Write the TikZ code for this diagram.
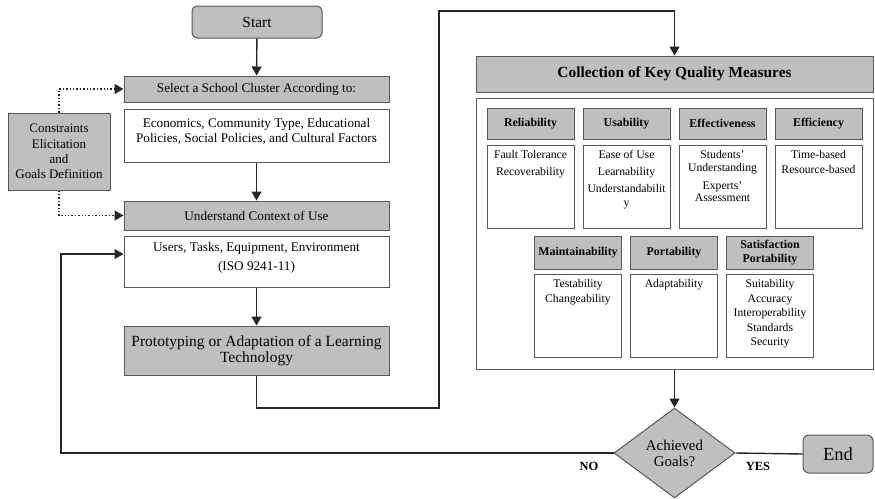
\documentclass[tikz,border=0pt]{standalone}
\usepackage{fontspec}
\setmainfont{Liberation Serif}
\usetikzlibrary{arrows.meta, positioning, shapes.geometric, calc}

\begin{document}
\begin{tikzpicture}[x=1pt, y=-1pt,
    every node/.style={inner sep=0pt},
    grey/.style={draw=black!65, line width=1pt, fill=black!25},
    plain/.style={draw=black!65, line width=1pt, fill=white},
    txt/.style={align=center, font=\fontsize{13.2}{15}\selectfont},
    small/.style={align=center, font=\fontsize{11.7}{14.5}\selectfont},
    head/.style={grey, minimum width=87pt, minimum height=31pt, align=center, font=\bfseries\fontsize{11.9}{14}\selectfont},
    cell/.style={plain, minimum width=87pt, minimum height=83pt},
    flow/.style={line width=1.4pt, draw=black!85},
    arr/.style={flow, -{Triangle[width=10pt,length=9pt]}},
    dots/.style={arr, dotted}]
    \useasboundingbox (0,0) rectangle (875,498);

    % left column
    \node[grey, rounded corners=5pt, minimum width=130pt, minimum height=32pt, font=\fontsize{15.4}{18}\selectfont] (start) at (257,22) {Start};
    \node[grey, minimum width=265pt, minimum height=26pt, txt] (sel) at (256.5,89) {Select a School Cluster According to:};
    \node[plain, minimum width=265pt, minimum height=53pt] (econ) at (256.5,135.5) {};
    \node[txt, below=9.5pt of econ.north] (econtxt) {Economics, Community Type, Educational\\Policies, Social Policies, and Cultural Factors};
    \node[grey, minimum width=265pt, minimum height=29pt, txt] (ctx) at (256.5,215.5) {Understand Context of Use};
    \node[plain, minimum width=265pt, minimum height=51pt] (users) at (256.5,261.5) {};
    \node[txt, below=6.5pt of users.north] (userstxt) {Users, Tasks, Equipment, Environment\\[4pt](ISO 9241-11)};
    \node[grey, minimum width=265pt, minimum height=49pt, align=center, font=\fontsize{15.5}{16}\selectfont] (proto) at (256.5,350.5) {Prototyping or Adaptation of a Learning\\Technology};
    \node[grey, minimum width=102pt, minimum height=77pt, align=center, font=\fontsize{13}{15.3}\selectfont] (cons) at (59,151.5) {Constraints\\Elicitation\\and\\Goals Definition};

    % right column
    \node[grey, minimum width=397pt, minimum height=36pt, font=\bfseries\fontsize{15.4}{18}\selectfont] (coll) at (674.5,74) {Collection of Key Quality Measures};
    \node[plain, minimum width=397pt, minimum height=271pt] (measures) at (674.5,233.5) {};

    \node[head] (rel) at (530.5,123.5) {Reliability};
    \node[head] (usa) at (626.5,123.5) {Usability};
    \node[head] (effe) at (722.5,123.5) {Effectiveness};
    \node[head] (effi) at (818.5,123.5) {Efficiency};
    \node[cell] (relbox) at (530.5,186.5) {};
    \node[cell] (usabox) at (626.5,186.5) {};
    \node[cell] (effebox) at (722.5,186.5) {};
    \node[cell] (effibox) at (818.5,186.5) {};
    \node[small, below=6pt of relbox.north] (reltxt) {Fault Tolerance\\[2.5pt]Recoverability};
    \node[small, below=6pt of usabox.north] (usatxt) {Ease of Use\\[2.5pt]Learnability\\[2pt]Understandabilit\\[-0.5pt]y};
    \node[small, below=6pt of effebox.north] (effetxt) {Students'\\[-1.5pt]Understanding\\[3.5pt]Experts'\\[-2.5pt]Assessment};
    \node[small, below=6pt of effibox.north] (effitxt) {Time-based\\Resource-based};

    \node[head, minimum height=33pt] (main) at (578,252.5) {Maintainability};
    \node[head, minimum height=33pt] (port) at (674,252.5) {Portability};
    \node[head, minimum height=33pt, font=\bfseries\fontsize{11.9}{13.5}\selectfont] (sati) at (770,252.5) {Satisfaction\\Portability};
    \node[cell] (mainbox) at (578,315.5) {};
    \node[cell] (portbox) at (674,315.5) {};
    \node[cell] (satibox) at (770,315.5) {};
    \node[small, below=6pt of mainbox.north] (maintxt) {Testability\\Changeability};
    \node[small, below=6pt of portbox.north] (porttxt) {Adaptability};
    \node[small, below=6pt of satibox.north] (satitxt) {Suitability\\Accuracy\\Interoperability\\Standards\\Security};

    % decision
    \node[grey, diamond, minimum width=121pt, minimum height=90pt, align=center, font=\fontsize{14.9}{16}\selectfont] (goal) at (674.5,453) {Achieved\\Goals?};
    \node[grey, rounded corners=6pt, minimum width=70pt, minimum height=38pt, font=\fontsize{18.5}{20}\selectfont] (end) at (838,454) {End};
    \node[font=\bfseries\fontsize{12.5}{14}\selectfont] (no) at (589,466) {NO};
    \node[font=\bfseries\fontsize{12.5}{14}\selectfont] (yes) at (758,466) {YES};

    \coordinate (down) at (439,408);
    \coordinate (up) at (439,11);
    \coordinate (back) at (61,254);

    \draw[arr] (start) -- (sel);
    \draw[arr] (econ) -- (ctx);
    \draw[arr] (users) -- (proto);
    \draw[arr] (proto.south) |- (down) -- (up) -| (coll.north);
    \draw[arr] (measures) -- (goal);
    \draw[arr] (goal.west) -| (back) -- (back -| users.west);
    \draw[flow] (goal.east) -- (end.west);
    \draw[dots] (cons.north) |- (sel.west);
    \draw[dots] (cons.south) |- (ctx.west);
\end{tikzpicture}
\end{document}
